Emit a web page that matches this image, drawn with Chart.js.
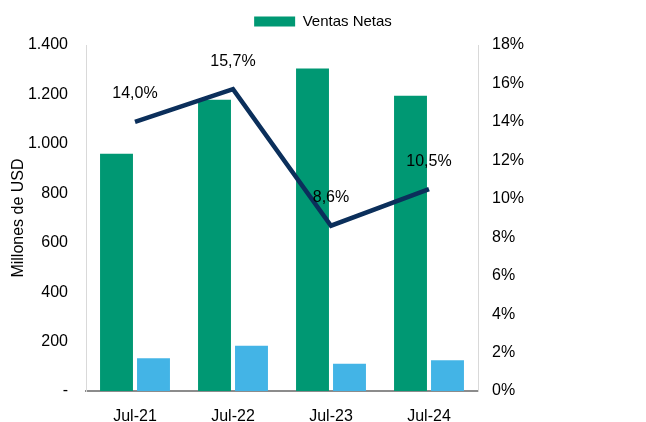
<!DOCTYPE html>
<html>
<head>
<meta charset="utf-8">
<script src="https://cdn.jsdelivr.net/npm/chart.js@4.4.1/dist/chart.umd.min.js"></script>
<style>
  html, body { margin: 0; padding: 0; background: #fff; }
  #wrap { width: 646px; height: 422px; }
</style>
</head>
<body>
<div id="wrap"><canvas id="chart"></canvas></div>
<script>
// values
const categories = ["Jul-21", "Jul-22", "Jul-23", "Jul-24"];
const ventasNetas = [960, 1178, 1305, 1195];
const otraSerie = [133, 183, 110, 124];
const margen = [14.0, 15.7, 8.6, 10.5];

const fontFamily = "'Liberation Sans', Arial, sans-serif";

function fmtMiles(v) {
    if (v === 0) return "-";
    return v.toLocaleString("de-DE");
}

// draws "14,0%" etc above the line points
const lineLabels = {
    id: "lineLabels",
    afterDatasetsDraw(chart) {
        const ctx = chart.ctx;
        const meta = chart.getDatasetMeta(2);
        ctx.save();
        ctx.font = "16px " + fontFamily;
        ctx.fillStyle = "#000";
        ctx.textAlign = "center";
        ctx.textBaseline = "middle";
        meta.data.forEach((pt, i) => {
            ctx.fillText(margen[i].toFixed(1).replace(".", ",") + "%", pt.x, pt.y - 28);
        });
        ctx.restore();
    }
};

// a bit more room under the legend
const legendGap = {
    id: "legendGap",
    afterInit(chart) {
        const lg = chart.legend;
        if (!lg) return;
        const origFit = lg.fit;
        lg.fit = function () {
            origFit.call(this);
            this.height += 6;
        };
    }
};

new Chart(document.getElementById("chart").getContext("2d"), {
    type: "bar",
    data: {
        labels: categories,
        datasets: [
            {
                label: "Ventas Netas",
                data: ventasNetas,
                backgroundColor: "#009873",
                yAxisID: "y",
                order: 2
            },
            {
                label: "Otro",
                data: otraSerie,
                backgroundColor: "#43b4e6",
                yAxisID: "y",
                order: 2
            },
            {
                type: "line",
                label: "Margen",
                data: margen,
                borderColor: "#0b2f5b",
                borderWidth: 4.5,
                pointRadius: 0,
                tension: 0,
                yAxisID: "y1",
                order: 1
            }
        ]
    },
    options: {
        responsive: true,
        maintainAspectRatio: false,
        animation: false,
        layout: { padding: 0 },
        datasets: {
            bar: { categoryPercentage: 0.755, barPercentage: 0.89 }
        },
        plugins: {
            tooltip: { enabled: false },
            legend: {
                position: "top",
                labels: {
                    filter: item => item.datasetIndex === 0,
                    font: { size: 15, family: fontFamily },
                    color: "#000",
                    boxWidth: 41,
                    boxHeight: 10,
                    padding: 14
                }
            }
        },
        scales: {
            x: {
                grid: { display: false },
                border: { color: "#8c8c8c", width: 2 },
                ticks: { font: { size: 16, family: fontFamily }, color: "#000", padding: 8 },
                afterFit: s => { s.height = 31; }
            },
            y: {
                position: "left",
                min: 0,
                max: 1400,
                grid: { display: false },
                border: { color: "#d9d9d9", width: 1 },
                ticks: {
                    stepSize: 200,
                    font: { size: 16, family: fontFamily },
                    color: "#000",
                    padding: 10,
                    callback: v => fmtMiles(v)
                },
                title: {
                    display: true,
                    text: "Millones de USD",
                    font: { size: 16, family: fontFamily },
                    color: "#000",
                    padding: { top: 9, bottom: 0 }
                },
                afterFit: s => { s.width = 86; }
            },
            y1: {
                position: "right",
                min: 0,
                max: 18,
                grid: { display: false },
                border: { color: "#d9d9d9", width: 1 },
                ticks: {
                    stepSize: 2,
                    font: { size: 16, family: fontFamily },
                    color: "#000",
                    padding: 6,
                    callback: v => v + "%"
                },
                afterFit: s => { s.width = 168; }
            }
        }
    },
    plugins: [lineLabels, legendGap]
});
</script>
</body>
</html>
